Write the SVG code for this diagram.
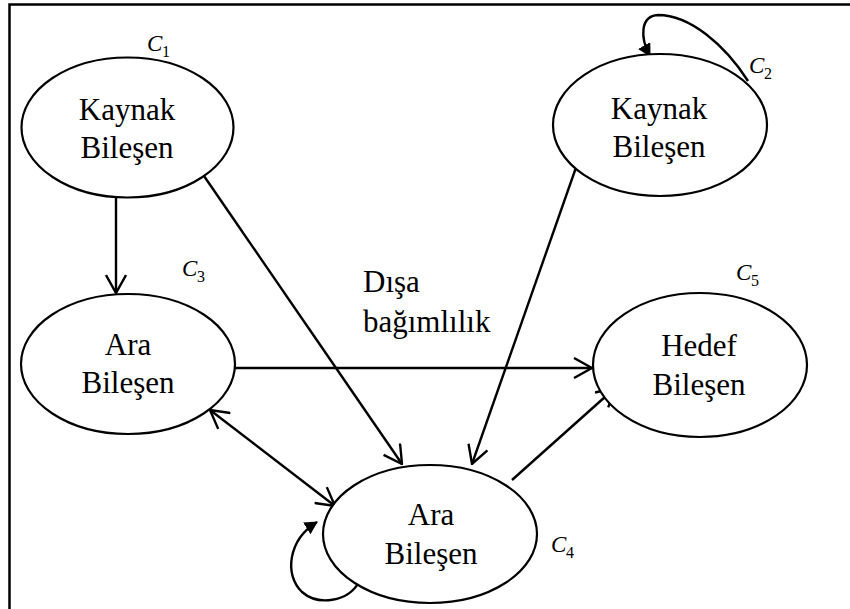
<svg xmlns="http://www.w3.org/2000/svg" width="850" height="609" viewBox="0 0 850 609">
<defs>
<style>
.node ellipse{fill:#fff;stroke:#000;stroke-width:2.2}
.lbl{font-family:"Liberation Serif","Times New Roman",serif;font-size:31px;fill:#000;text-anchor:middle}
.txt{font-family:"Liberation Serif","Times New Roman",serif;font-size:31px;fill:#000}
.cn{font-family:"Liberation Serif","Times New Roman",serif;font-style:italic;font-size:23px;fill:#000}
.cs{font-family:"Liberation Serif","Times New Roman",serif;font-size:16px;fill:#000}
.edge{fill:none;stroke:#000;stroke-width:2.4}
</style>
<marker id="open" markerUnits="userSpaceOnUse" viewBox="0 0 20 22" refX="19" refY="11" markerWidth="20" markerHeight="22" orient="auto-start-reverse">
<path d="M1,1 L19,11 L1,21" fill="none" stroke="#000" stroke-width="2.4"/>
</marker>
<marker id="solid" markerUnits="userSpaceOnUse" viewBox="0 0 14 14" refX="12" refY="7" markerWidth="14" markerHeight="14" orient="auto">
<path d="M0,0 L13,7 L0,14 Z" fill="#000"/>
</marker>
</defs>
<rect x="0" y="0" width="850" height="609" fill="#fff"/>
<path d="M9.5,609 V4.5 H850" fill="none" stroke="#000" stroke-width="2.5"/>
<g id="connectors">
<line class="edge" x1="116" y1="197" x2="116" y2="293" marker-end="url(#open)"/>
<line class="edge" x1="204" y1="176" x2="402" y2="464" marker-end="url(#open)"/>
<line class="edge" x1="579" y1="159" x2="472" y2="464" marker-end="url(#open)"/>
<line class="edge" x1="235" y1="368" x2="592" y2="368" marker-end="url(#open)"/>
<line class="edge" x1="512" y1="480" x2="615" y2="388" marker-end="url(#open)"/>
<line class="edge" x1="210" y1="410" x2="335" y2="506" marker-start="url(#open)" marker-end="url(#open)"/>
<path class="edge" d="M748,81 C725,45 690,15 658,15 C640,16 640,38 650,56" marker-end="url(#solid)"/>
<path class="edge" d="M359,582 C348,602 318,606 302,592 C284,575 288,540 317,522" marker-end="url(#solid)"/>
</g>
<g id="c1" class="node">
<ellipse cx="127.5" cy="127.5" rx="106" ry="70"/>
<text class="lbl" x="127" y="120">Kaynak</text>
<text class="lbl" x="127" y="158">Bileşen</text>
</g>
<g id="c2" class="node">
<ellipse cx="660" cy="125" rx="107" ry="71"/>
<text class="lbl" x="659" y="119">Kaynak</text>
<text class="lbl" x="659" y="157">Bileşen</text>
</g>
<g id="c3" class="node">
<ellipse cx="128" cy="364" rx="107" ry="70"/>
<text class="lbl" x="128" y="355">Ara</text>
<text class="lbl" x="128" y="393">Bileşen</text>
</g>
<g id="c5" class="node">
<ellipse cx="700" cy="365" rx="107" ry="72"/>
<text class="lbl" x="699" y="356">Hedef</text>
<text class="lbl" x="699" y="395">Bileşen</text>
</g>
<g id="c4" class="node">
<ellipse cx="430" cy="534" rx="107" ry="69"/>
<text class="lbl" x="431" y="525">Ara</text>
<text class="lbl" x="431" y="564">Bileşen</text>
</g>
<g id="labels">
<text class="txt" x="363" y="292">Dışa</text>
<text class="txt" x="363" y="332">bağımlılık</text>
<text class="cn" x="147" y="51">C</text><text class="cs" x="162" y="57">1</text>
<text class="cn" x="749" y="73">C</text><text class="cs" x="764" y="79">2</text>
<text class="cn" x="182" y="276">C</text><text class="cs" x="197" y="282">3</text>
<text class="cn" x="551" y="552">C</text><text class="cs" x="566" y="558">4</text>
<text class="cn" x="736" y="280">C</text><text class="cs" x="751" y="286">5</text>
</g>
</svg>
